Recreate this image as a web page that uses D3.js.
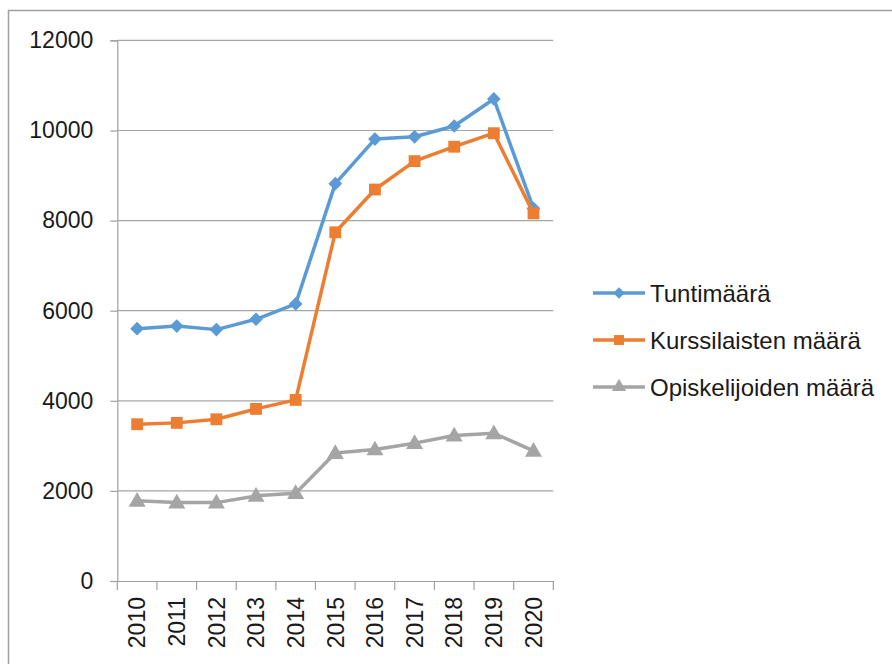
<!DOCTYPE html>
<html><head><meta charset="utf-8">
<script src="https://cdn.jsdelivr.net/npm/d3@7"></script>
<style>body{margin:0;background:#fff}svg{display:block}</style>
</head><body>
<svg id="c" width="892" height="664"></svg>
<script>
const years = ["2010","2011","2012","2013","2014","2015","2016","2017","2018","2019","2020"];
const tunnit = [5600, 5660, 5580, 5810, 6150, 8820, 9810, 9860, 10100, 10700, 8270];
const kurssilaiset = [3480, 3510, 3590, 3820, 4020, 7740, 8690, 9320, 9640, 9940, 8160];
const opiskelijat = [1780, 1740, 1740, 1890, 1950, 2840, 2920, 3060, 3230, 3280, 2890];
const seriesNames = ["Tuntimäärä", "Kurssilaisten määrä", "Opiskelijoiden määrä"];
const yTicks = [0, 2000, 4000, 6000, 8000, 10000, 12000];

const colors = ["#5B9BD5", "#ED7D31", "#A5A5A5"];
const symbols = [d3.symbolDiamond2, d3.symbolSquare, d3.symbolTriangle];
const symSizes = [120, 140, 125];
const series = [tunnit, kurssilaiset, opiskelijat];

const svg = d3.select("#c");
const font = "'Liberation Sans', Arial, sans-serif";

// outer border
svg.append("rect").attr("x", 8.5).attr("y", 10.5).attr("width", 900).attr("height", 700)
  .attr("fill", "none").attr("stroke", "#a0a0a0").attr("stroke-width", 1.5);

const x = d3.scaleBand().domain(years).range([117.3, 553.3]);
const y = d3.scaleLinear().domain([0, 12000]).range([581, 40.4]);

// gridlines
svg.append("g").selectAll("line").data(yTicks.filter(d => d > 0)).join("line")
  .attr("x1", 117.3).attr("x2", 553.3)
  .attr("y1", d => y(d)).attr("y2", d => y(d))
  .attr("stroke", "#a6a6a6").attr("stroke-width", 1.2);

// y axis
const yAxis = svg.append("g").attr("transform", "translate(117.3,0)")
  .call(d3.axisLeft(y).tickValues(yTicks).tickSize(7).tickPadding(17).tickFormat(d3.format("d")));
yAxis.select(".domain").attr("stroke", "#a0a0a0").attr("stroke-width", 1.2);
yAxis.selectAll(".tick line").attr("stroke", "#a0a0a0").attr("stroke-width", 1.2);
yAxis.selectAll("text").attr("font-family", font).attr("font-size", 23).attr("fill", "#1a1a1a");

// x axis
const xAxis = svg.append("g").attr("transform", "translate(0,581)")
  .call(d3.axisBottom(x).tickSize(0).tickPadding(0));
xAxis.select(".domain").attr("stroke", "#a0a0a0").attr("stroke-width", 1.2);
xAxis.selectAll(".tick line").remove();
xAxis.selectAll(".tick text")
  .attr("font-family", font).attr("font-size", 23).attr("fill", "#1a1a1a")
  .attr("transform", "rotate(-90)")
  .attr("x", -16).attr("y", 0).attr("dy", "0.36em")
  .attr("text-anchor", "end");
// category separator ticks
const bounds = years.map(d => x(d)).concat([x.range()[1]]);
svg.append("g").selectAll("line").data(bounds).join("line")
  .attr("x1", d => d).attr("x2", d => d).attr("y1", 581).attr("y2", 590)
  .attr("stroke", "#a0a0a0").attr("stroke-width", 1.2);

const cx = d => x(d) + x.bandwidth() / 2;
const line = d3.line().x((d, i) => cx(years[i])).y(d => y(d));

series.forEach((s, k) => {
  const g = svg.append("g");
  g.append("path").datum(s).attr("d", line).attr("fill", "none")
    .attr("stroke", colors[k]).attr("stroke-width", 3.5).attr("stroke-linejoin", "round");
  g.selectAll("path.m").data(s).join("path").attr("class", "m")
    .attr("d", d3.symbol().type(symbols[k]).size(symSizes[k]))
    .attr("transform", (d, i) => `translate(${cx(years[i])},${y(d) + (k === 2 ? 1 : 0)})`)
    .attr("fill", colors[k]);
});

// legend
const leg = svg.append("g");
seriesNames.forEach((n, k) => {
  const ly = 293 + k * 47;
  leg.append("line").attr("x1", 593).attr("x2", 645).attr("y1", ly).attr("y2", ly)
    .attr("stroke", colors[k]).attr("stroke-width", 3.5);
  leg.append("path").attr("d", d3.symbol().type(symbols[k]).size(symSizes[k] * 0.7))
    .attr("transform", `translate(619,${ly})`).attr("fill", colors[k]);
  leg.append("text").attr("x", 650).attr("y", ly).attr("dy", "0.36em")
    .attr("font-family", font).attr("font-size", 24).attr("fill", "#1a1a1a").text(n);
});
</script>
</body></html>
